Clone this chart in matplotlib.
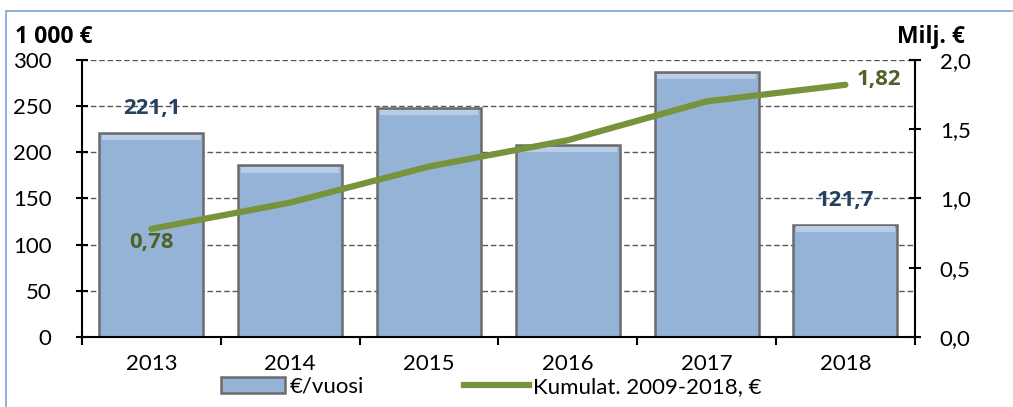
import numpy as np
import matplotlib.pyplot as plt
from matplotlib.patches import Rectangle
from matplotlib.lines import Line2D

plt.rcParams['font.family'] = ['Lato', 'DejaVu Sans']
BOLD = ['Open Sans', 'DejaVu Sans']

years = ['2013', '2014', '2015', '2016', '2017', '2018']
per_year = [221.1, 186.0, 248.0, 208.0, 287.0, 121.7]
cumulative = [0.78, 0.97, 1.23, 1.42, 1.70, 1.82]

bar_color = '#95B3D7'
line_color = '#77933C'

fig = plt.figure(figsize=(10.13, 4.07), dpi=100)
ax = fig.add_axes([0.081, 0.172, 0.822, 0.681])
x = np.arange(len(years))

ax.set_ylim(0, 300)
ax.set_xlim(-0.5, len(years) - 0.5)
ax.set_yticks(range(0, 301, 50))
for yv in range(50, 301, 50):
    ax.axhline(yv, color='#595959', lw=1, ls=(0, (4, 2)), zorder=1)

bars = ax.bar(x, per_year, width=0.75, color=bar_color, edgecolor='#6b6b6b', lw=1.8, zorder=2)
# soft bevel highlight near the top of each bar
for b in bars:
    ax.add_patch(Rectangle((b.get_x() + 0.02, b.get_height() - 8), b.get_width() - 0.04, 6,
                           color='#b9cde6', lw=0, zorder=3))

ax.set_xticks(x)
ax.set_xticklabels(years, fontsize=16)
ax.set_xticks(np.arange(-0.5, len(years), 1), minor=True)
ax.tick_params(axis='x', which='major', length=0, pad=12)
ax.tick_params(axis='x', which='minor', length=6, width=1.5, direction='out')
ax.tick_params(axis='y', labelsize=16, length=8, width=1.5, direction='inout', pad=18)
for s in ['top', 'right']:
    ax.spines[s].set_visible(False)
ax.spines['left'].set_linewidth(1.5)
ax.spines['bottom'].set_linewidth(1.5)

ax.text(x[0], per_year[0] + 26, '221,1', ha='center', va='center', fontsize=16,
        fontweight='bold', family=BOLD, color='#254061', zorder=5)
ax.text(x[5], per_year[5] + 26, '121,7', ha='center', va='center', fontsize=16,
        fontweight='bold', family=BOLD, color='#254061', zorder=5)

ax2 = ax.twinx()
ax2.set_ylim(0, 2.0)
ax2.set_yticks(np.arange(0, 2.01, 0.5))
ax2.set_yticklabels([f'{v:.1f}'.replace('.', ',') for v in np.arange(0, 2.01, 0.5)])
ax2.plot(x, cumulative, color=line_color, lw=4.5, solid_capstyle='round', zorder=4)
ax2.tick_params(axis='y', labelsize=16, length=8, width=1.5, direction='inout', pad=14)
for s in ['top', 'left', 'bottom']:
    ax2.spines[s].set_visible(False)
ax2.spines['right'].set_linewidth(1.5)

ax2.text(x[0], cumulative[0] - 0.1, '0,78', ha='center', va='center', fontsize=16,
         fontweight='bold', family=BOLD, color='#4F6228')
ax2.text(x[5] + 0.24, cumulative[5] + 0.04, '1,82', ha='center', va='center', fontsize=16,
         fontweight='bold', family=BOLD, color='#4F6228')

fig.text(0.015, 0.91, '1 000 €', fontsize=16.5, fontweight='bold', family=BOLD,
         ha='left', va='center')
fig.text(0.952, 0.91, 'Milj. €', fontsize=16.5, fontweight='bold', family=BOLD,
         ha='right', va='center')

handles = [Rectangle((0, 0), 1, 1, facecolor=bar_color, edgecolor='#6b6b6b', lw=1.8),
           Line2D([0], [0], color=line_color, lw=4.5)]
fig.legend(handles, ['€/vuosi', 'Kumulat. 2009-2018, €'], loc='center',
           bbox_to_anchor=(0.485, 0.05), ncol=2, frameon=False, fontsize=16,
           handlelength=2.9, columnspacing=4.5, handletextpad=0.2)

fig.add_artist(Rectangle((0.006, -0.1), 1.2, 1.073, transform=fig.transFigure,
                         fill=False, edgecolor='#7da2d6', lw=1.2))

fig.savefig('out.png', dpi=100)
